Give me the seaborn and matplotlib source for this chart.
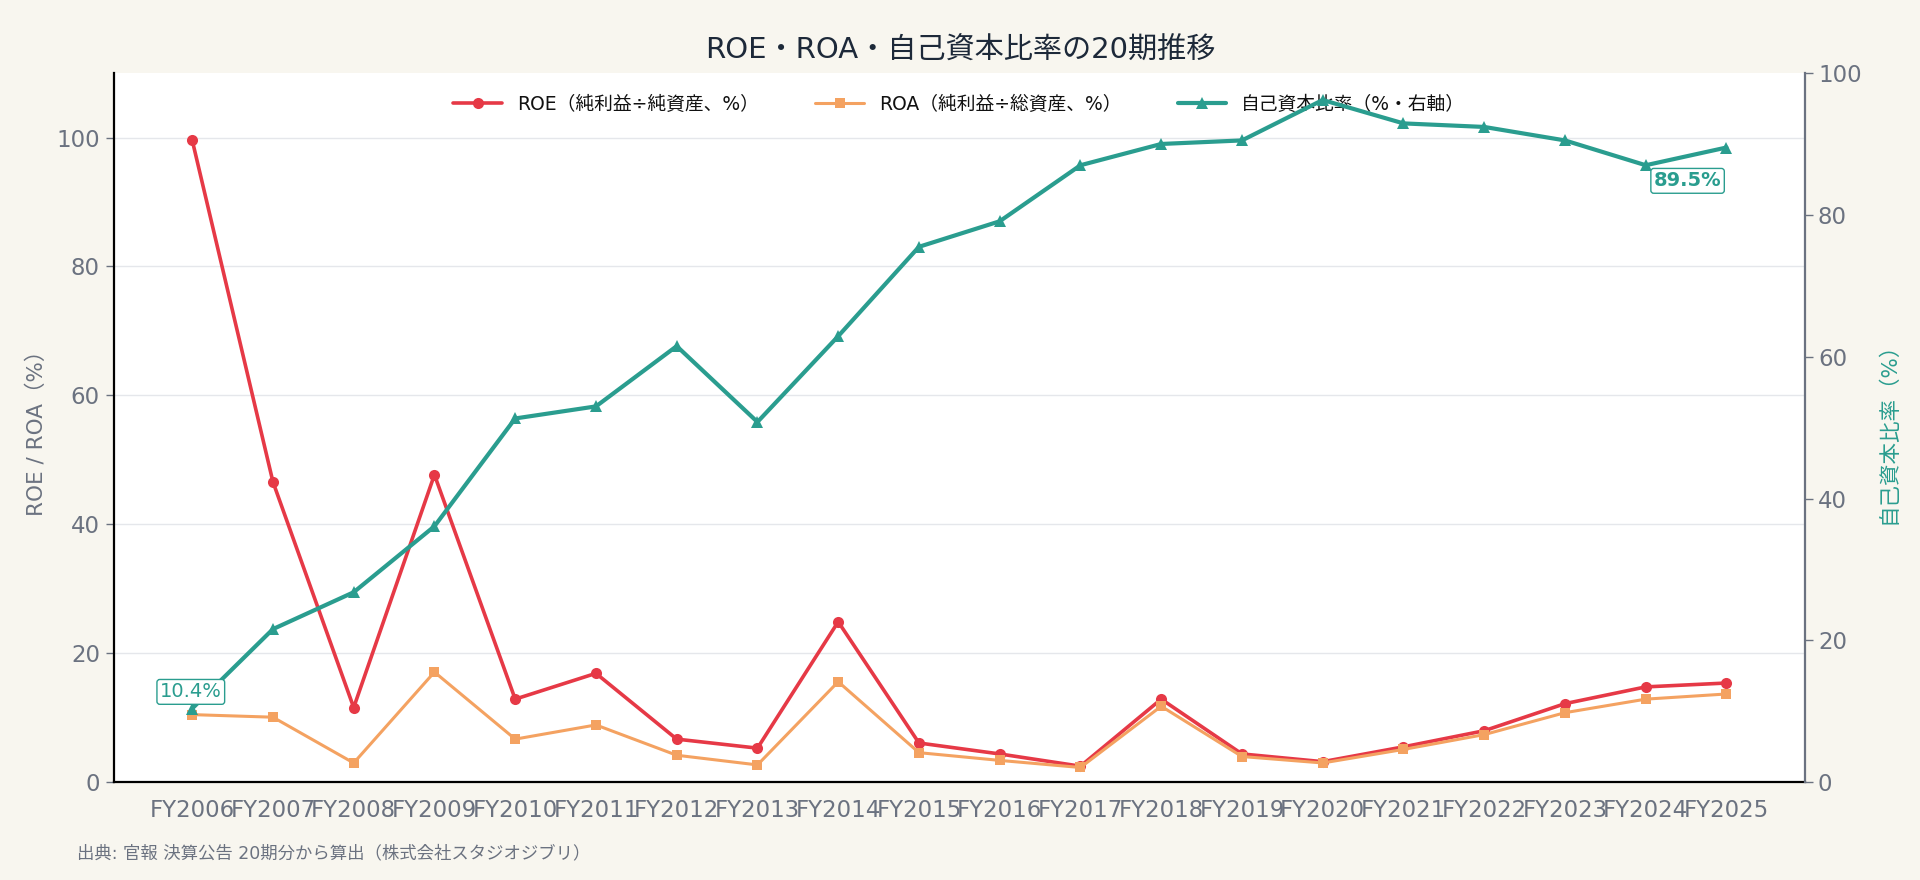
import pandas as pd
import matplotlib
matplotlib.use("Agg")
import matplotlib.pyplot as plt
import seaborn as sns

# 年度ラベル
YEARS = [f"FY{y}" for y in range(2006, 2026)]

# ROE (%)
ROE = [99.6, 46.6, 11.6, 47.7, 12.9, 16.9, 6.7, 5.3, 24.9, 6.1,
       4.4, 2.5, 12.9, 4.4, 3.2, 5.5, 8.0, 12.2, 14.8, 15.4]
# ROA (%)
ROA = [10.5, 10.1, 3.0, 17.1, 6.7, 8.9, 4.2, 2.7, 15.6, 4.6,
       3.4, 2.3, 11.8, 4.0, 3.0, 5.1, 7.4, 10.8, 12.9, 13.7]
# 自己資本比率 (%)
EQUITY = [10.4, 21.6, 26.8, 36.1, 51.3, 53.0, 61.5, 50.8, 62.9, 75.5,
          79.1, 87.0, 90.0, 90.5, 96.2, 92.9, 92.4, 90.5, 87.0, 89.5]

LABEL_ROE = "ROE（純利益÷純資産、%）"
LABEL_ROA = "ROA（純利益÷総資産、%）"
LABEL_EQ = "自己資本比率（%・右軸）"

C_ROE = "#E63946"
C_ROA = "#F4A261"
C_EQ = "#2A9D8F"
C_GRAY = "#6B7280"
C_TITLE = "#1D2939"
BG = "#F8F6EF"

sns.set_theme(style="whitegrid")
plt.rcParams["font.family"] = ["DejaVu Sans", "Noto Sans CJK JP"]

df = pd.DataFrame({"year": YEARS, "roe": ROE, "roa": ROA, "equity": EQUITY})

fig = plt.figure(figsize=(19.2, 8.8), dpi=100, facecolor=BG)
ax1 = fig.add_axes([0.0593, 0.111, 0.8807, 0.806])
ax1.set_facecolor("white")
ax2 = ax1.twinx()

sns.lineplot(data=df, x="year", y="roe", ax=ax1, color=C_ROE, marker="o",
             markersize=8, markeredgewidth=0, linewidth=2.6, label=LABEL_ROE)
sns.lineplot(data=df, x="year", y="roa", ax=ax1, color=C_ROA, marker="s",
             markersize=7, markeredgewidth=0, linewidth=2.2, label=LABEL_ROA)
sns.lineplot(data=df, x="year", y="equity", ax=ax2, color=C_EQ, marker="^",
             markersize=9, markeredgewidth=0, linewidth=3.0, label=LABEL_EQ)

ax1.set_xlim(-0.97, 19.97)
ax1.set_ylim(0, 110)
ax2.set_ylim(0, 100)
ax1.set_yticks([0, 20, 40, 60, 80, 100])
ax2.set_yticks([0, 20, 40, 60, 80, 100])

ax1.grid(axis="y", color="#E5E7EB", linewidth=1)
ax1.grid(axis="x", visible=False)
ax2.grid(False)

ax1.set_xlabel("")
ax1.set_ylabel("ROE / ROA（%）", color=C_GRAY, fontsize=15.5, labelpad=7)
ax2.set_ylabel("自己資本比率（%）", color=C_EQ, fontsize=15.5, labelpad=12)

for ax in (ax1, ax2):
    ax.tick_params(axis="both", colors=C_GRAY, labelsize=16.5, length=6, width=1)
ax1.tick_params(axis="y", pad=4)
ax1.tick_params(axis="x", pad=6)

ax1.spines["top"].set_visible(False)
ax2.spines["top"].set_visible(False)
ax1.spines["left"].set_color("black")
ax1.spines["left"].set_linewidth(1.6)
ax1.spines["bottom"].set_color("black")
ax1.spines["bottom"].set_linewidth(1.6)
ax1.spines["right"].set_visible(False)
ax2.spines["left"].set_visible(False)
ax2.spines["bottom"].set_visible(False)
ax2.spines["right"].set_color(C_GRAY)
ax2.spines["right"].set_linewidth(1.6)

# 凡例をまとめる
h1, l1 = ax1.get_legend_handles_labels()
h2, l2 = ax2.get_legend_handles_labels()
ax2.get_legend().remove()
ax1.legend(h1 + h2, l1 + l2, loc="upper center", ncol=3, frameon=False,
           fontsize=13.5, columnspacing=3.0, handlelength=2.6,
           bbox_to_anchor=(0.5, 0.993), labelcolor="#111111")

# 始点・終点の注記
ax2.annotate(f"{EQUITY[0]}%", xy=(0, EQUITY[0]), xytext=(-1, 12),
             textcoords="offset points", ha="center", va="center",
             fontsize=14, color=C_EQ,
             bbox=dict(boxstyle="round,pad=0.15", fc="white", ec=C_EQ, lw=1))
ax2.annotate(f"{EQUITY[-1]}%", xy=(19, EQUITY[-1]), xytext=(-28, -24),
             textcoords="offset points", ha="center", va="center",
             fontsize=14, color=C_EQ, fontweight="bold",
             bbox=dict(boxstyle="round,pad=0.15", fc="white", ec=C_EQ, lw=1))

fig.suptitle("ROE・ROA・自己資本比率の20期推移", fontsize=21, color=C_TITLE,
             y=0.958)
fig.text(0.040, 0.030, "出典: 官報 決算公告 20期分から算出（株式会社スタジオジブリ）",
         fontsize=12.5, color=C_GRAY, ha="left", va="center")

fig.savefig("out.png", dpi=100, facecolor=BG)
plt.close(fig)
